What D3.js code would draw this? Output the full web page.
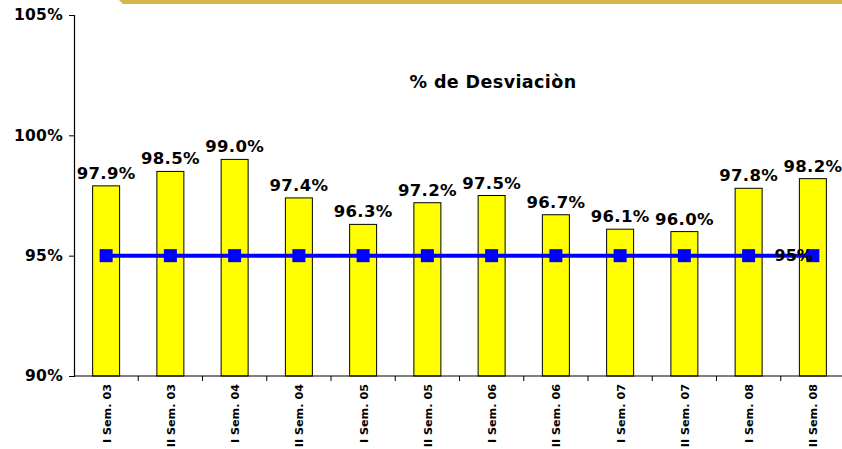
<!DOCTYPE html>
<html>
<head>
<meta charset="utf-8">
<script src="https://cdn.jsdelivr.net/npm/d3@7"></script>
<style>
  body { margin: 0; background: #fff; }
  svg { display: block; font-family: "DejaVu Sans", Verdana, sans-serif; }
</style>
</head>
<body>
<div id="chart"></div>
<script>
// data
const periods = ["I Sem. 03", "II Sem. 03", "I Sem. 04", "II Sem. 04", "I Sem. 05", "II Sem. 05",
                 "I Sem. 06", "II Sem. 06", "I Sem. 07", "II Sem. 07", "I Sem. 08", "II Sem. 08"];
const deviation = [97.9, 98.5, 99.0, 97.4, 96.3, 97.2, 97.5, 96.7, 96.1, 96.0, 97.8, 98.2];
const target = [95, 95, 95, 95, 95, 95, 95, 95, 95, 95, 95, 95];
const yTicks = [90, 95, 100, 105];

const width = 842, height = 449;
const margin = {top: 15, right: -3, bottom: 73, left: 74};

const svg = d3.select("#chart").append("svg")
    .attr("width", width)
    .attr("height", height);

// gold strip on top
svg.append("path")
    .attr("d", "M119,0 L842,0 L842,4 L123,4 Z")
    .attr("fill", "#d4b94a");

const x = d3.scaleBand()
    .domain(periods)
    .range([margin.left, width - margin.right])
    .paddingInner(0.58)
    .paddingOuter(0.29);

const y = d3.scaleLinear()
    .domain([90, 105])
    .range([height - margin.bottom, margin.top]);

// title
svg.append("text")
    .attr("x", 493)
    .attr("y", 88)
    .attr("text-anchor", "middle")
    .attr("font-size", "17.5px")
    .attr("font-weight", "bold")
    .attr("letter-spacing", "0.4px")
    .text("% de Desviaciòn");

// bars
svg.selectAll("rect.bar")
    .data(deviation)
    .enter()
    .append("rect")
    .attr("class", "bar")
    .attr("x", (d, i) => x(periods[i]))
    .attr("y", d => y(d))
    .attr("width", x.bandwidth())
    .attr("height", d => y(90) - y(d))
    .attr("fill", "#ffff00")
    .attr("stroke", "#000")
    .attr("stroke-width", 1);

// bar labels
svg.selectAll("text.val")
    .data(deviation)
    .enter()
    .append("text")
    .attr("class", "val")
    .attr("x", (d, i) => x(periods[i]) + x.bandwidth() / 2)
    .attr("y", d => y(d) - 7)
    .attr("text-anchor", "middle")
    .attr("font-size", "16.5px")
    .attr("font-weight", "bold")
    .attr("letter-spacing", "0.3px")
    .text(d => d.toFixed(1) + "%");

// target line
const cx = (d, i) => x(periods[i]) + x.bandwidth() / 2;
svg.append("path")
    .datum(target)
    .attr("fill", "none")
    .attr("stroke", "#0000ff")
    .attr("stroke-width", 4)
    .attr("d", d3.line().x(cx).y(d => y(d)));

const mk = 13;
svg.selectAll("rect.mk")
    .data(target)
    .enter()
    .append("rect")
    .attr("class", "mk")
    .attr("x", (d, i) => cx(d, i) - mk / 2)
    .attr("y", d => y(d) - mk / 2)
    .attr("width", mk)
    .attr("height", mk)
    .attr("fill", "#0000ff");

svg.append("text")
    .attr("x", cx(target[11], 11) + 0)
    .attr("y", y(95) + 5)
    .attr("text-anchor", "end")
    .attr("font-size", "16px")
    .attr("font-weight", "bold")
    .text("95%");

// y axis
const yAxis = svg.append("g")
    .attr("transform", `translate(${margin.left},0)`)
    .call(d3.axisLeft(y).tickValues(yTicks).tickSize(5).tickFormat(d => d + "%"));
yAxis.select(".domain").attr("stroke", "#000").attr("stroke-width", 1.2);
yAxis.selectAll("text")
    .attr("font-size", "15.5px")
    .attr("font-weight", "bold")
    .attr("font-family", "DejaVu Sans, Verdana, sans-serif")
    .attr("fill", "#000")
    .attr("letter-spacing", "0.3px")
    .attr("x", -11);

// x axis: line + ticks at band boundaries
const xg = svg.append("g");
xg.append("line")
    .attr("x1", margin.left).attr("x2", width)
    .attr("y1", y(90)).attr("y2", y(90))
    .attr("stroke", "#000").attr("stroke-width", 1.2);
const step = x.step();
xg.selectAll("line.tk")
    .data(periods)
    .enter()
    .append("line")
    .attr("class", "tk")
    .attr("x1", (d, i) => margin.left + (i + 1) * step)
    .attr("x2", (d, i) => margin.left + (i + 1) * step)
    .attr("y1", y(90))
    .attr("y2", y(90) + 5)
    .attr("stroke", "#000");

xg.selectAll("text.cat")
    .data(periods)
    .enter()
    .append("text")
    .attr("class", "cat")
    .attr("transform", (d, i) => `translate(${x(d) + x.bandwidth() / 2 + 4.5},${y(90) + 8}) rotate(-90)`)
    .attr("text-anchor", "end")
    .attr("font-size", "11.2px")
    .attr("font-weight", "bold")
    .text(d => d);
</script>
</body>
</html>
